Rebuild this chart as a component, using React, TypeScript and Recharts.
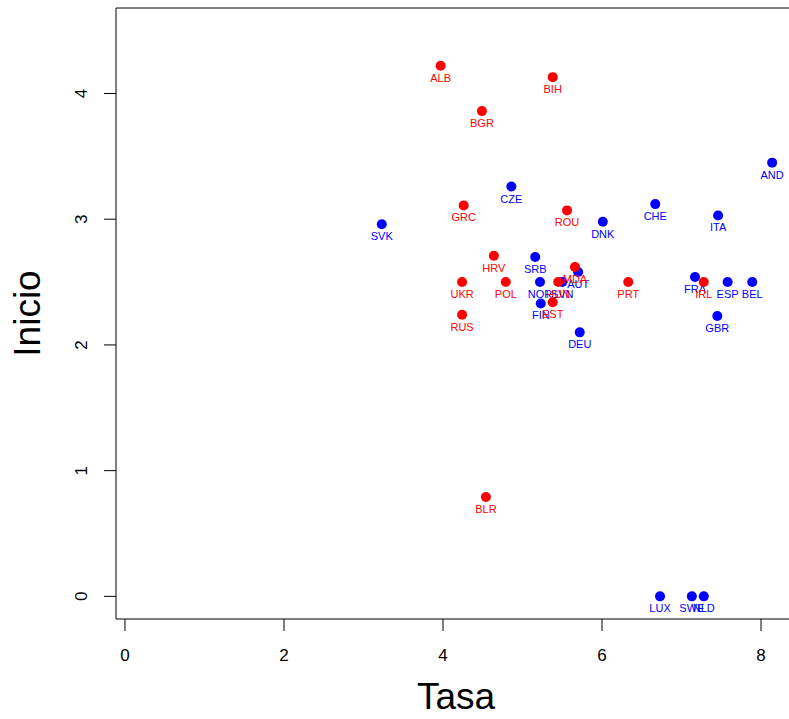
import React from "react";
import { ScatterChart, Scatter, XAxis, YAxis, ReferenceArea, Label } from "recharts";

const blueNames = ["AND", "SVK", "CZE", "CHE", "ITA", "DNK", "SRB", "AUT", "NOR", "SVN", "FIN", "DEU", "FRA", "ESP", "BEL", "GBR", "LUX", "SWE", "NLD"];
const blueX = [8.14, 3.23, 4.86, 6.67, 7.46, 6.01, 5.16, 5.70, 5.22, 5.50, 5.23, 5.72, 7.17, 7.58, 7.89, 7.45, 6.73, 7.13, 7.28];
const blueY = [3.45, 2.96, 3.26, 3.12, 3.03, 2.98, 2.70, 2.58, 2.50, 2.50, 2.33, 2.10, 2.54, 2.50, 2.50, 2.23, 0, 0, 0];

const redNames = ["ALB", "BIH", "BGR", "GRC", "ROU", "HRV", "UKR", "POL", "MDA", "HUN", "EST", "PRT", "IRL", "RUS", "BLR"];
const redX = [3.97, 5.38, 4.49, 4.26, 5.56, 4.64, 4.24, 4.79, 5.66, 5.45, 5.38, 6.33, 7.28, 4.24, 4.54];
const redY = [4.22, 4.13, 3.86, 3.11, 3.07, 2.71, 2.50, 2.50, 2.62, 2.50, 2.34, 2.50, 2.50, 2.24, 0.79];

const xTicks = [0, 2, 4, 6, 8];
const yTicks = [0, 1, 2, 3, 4];
const xDomain: [number, number] = [-0.113, 8.44];
const yDomain: [number, number] = [-0.18, 4.68];

const FONT = "'Liberation Sans', Arial, Helvetica, sans-serif";

const blueData = blueNames.map((n, i) => ({ name: n, x: blueX[i], y: blueY[i] }));
const redData = redNames.map((n, i) => ({ name: n, x: redX[i], y: redY[i] }));

const makeShape = (color: string) => (props: any) => {
  const { cx, cy, payload } = props;
  if (cx == null || cy == null) return <g />;
  return (
    <g>
      <circle cx={cx} cy={cy} r={5} fill={color} stroke="none" />
      <text x={cx} y={cy + 16} textAnchor="middle" fontSize={11} fontFamily={FONT} fill={color}>
        {payload.name}
      </text>
    </g>
  );
};

const XTick = (props: any) => {
  const { x, y, payload } = props;
  return (
    <text x={x} y={y + 30} textAnchor="middle" fontSize={17} fontFamily={FONT} fill="#000">
      {payload.value}
    </text>
  );
};

const YTick = (props: any) => {
  const { x, y, payload } = props;
  return (
    <text
      transform={`translate(${x - 17},${y}) rotate(-90)`}
      textAnchor="middle"
      fontSize={17}
      fontFamily={FONT}
      fill="#000"
    >
      {payload.value}
    </text>
  );
};

export default function App() {
  return (
    <div style={{ position: "absolute", left: 0, top: 0, width: 789, height: 719, overflow: "hidden", background: "#fff" }}>
      <ScatterChart width={797} height={719} margin={{ top: 8, right: 1, bottom: 0, left: 0 }}>
        <XAxis
          type="number"
          dataKey="x"
          domain={xDomain}
          ticks={xTicks}
          allowDataOverflow
          axisLine={false}
          tickLine={{ stroke: "#000", strokeWidth: 1 }}
          tickSize={12}
          tickMargin={0}
          height={100}
          tick={<XTick />}
        >
          <Label
            content={(p: any) => {
              const vb = p.viewBox;
              return (
                <text x={vb.x + vb.width / 2} y={709} textAnchor="middle" fontSize={37} fontFamily={FONT} fill="#000">
                  Tasa
                </text>
              );
            }}
          />
        </XAxis>
        <YAxis
          type="number"
          dataKey="y"
          domain={yDomain}
          ticks={yTicks}
          allowDataOverflow
          axisLine={false}
          tickLine={{ stroke: "#000", strokeWidth: 1 }}
          tickSize={12}
          tickMargin={0}
          width={116}
          tick={<YTick />}
        >
          <Label
            content={(p: any) => {
              const vb = p.viewBox;
              return (
                <text
                  transform={`translate(40,${vb.y + vb.height / 2}) rotate(-90)`}
                  textAnchor="middle"
                  fontSize={37}
                  fontFamily={FONT}
                  fill="#000"
                >
                  Inicio
                </text>
              );
            }}
          />
        </YAxis>
        <ReferenceArea
          x1={xDomain[0]}
          x2={xDomain[1]}
          y1={yDomain[0]}
          y2={yDomain[1]}
          fill="none"
          stroke="#000"
          strokeWidth={1}
          ifOverflow="visible"
        />
        <Scatter data={blueData} shape={makeShape("#0000ff")} isAnimationActive={false} />
        <Scatter data={redData} shape={makeShape("#ff0000")} isAnimationActive={false} />
      </ScatterChart>
    </div>
  );
}
